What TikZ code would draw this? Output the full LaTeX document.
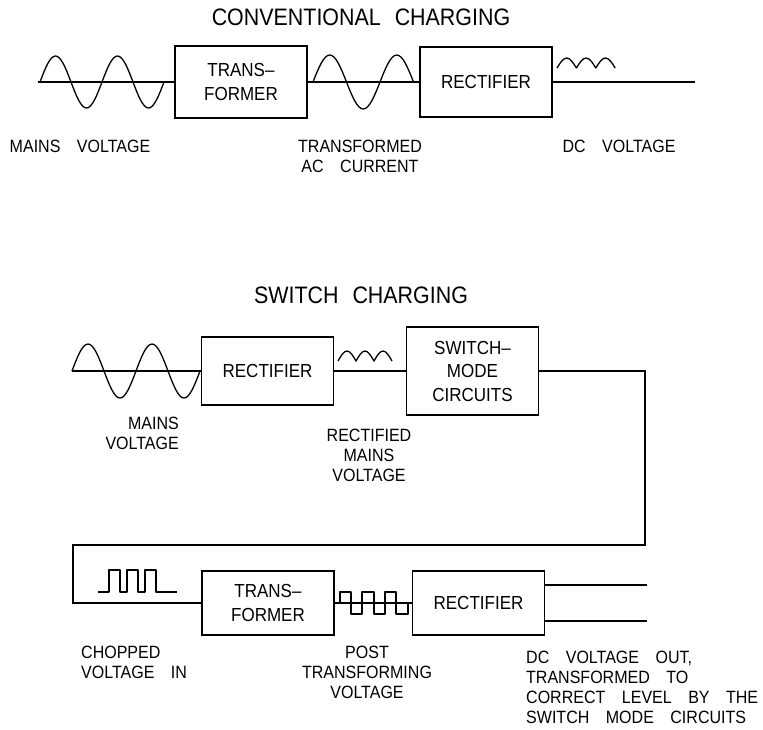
\documentclass[tikz,border=0pt]{standalone}
\usepackage{fontspec}
\setmainfont{Liberation Sans}[FakeStretch=0.9]
\usetikzlibrary{positioning}
\newcommand\lblfont{\fontsize{17.8}{20}\selectfont\spaceskip=16.5pt plus 1pt\relax}
\newcommand\headfont{\fontsize{23.8}{26}\selectfont\spaceskip=14pt plus 1pt\relax}
\newcommand\boxfont{\fontsize{18.9}{23.5}\selectfont}
\tikzset{
  block/.style={draw, line width=1.6pt, minimum width=132pt, align=center, inner sep=0pt, font=\boxfont},
  wire/.style={line width=1.3pt},
  wave/.style={line width=1.3pt, line join=round},
  note/.style={font=\lblfont, align=center, inner sep=0pt},
  heading/.style={font=\headfont, inner sep=0pt}
}

\begin{document}
\begin{tikzpicture}[x=1pt,y=-1pt]
  \useasboundingbox (0,0) rectangle (763,729);
  % conventional charging
  \node[heading] (head1) at (361,17.5) {CONVENTIONAL CHARGING};
  \coordinate (in1) at (38,82);
  \node[block, minimum height=72pt] (trans1) at (241,82) {TRANS--\\FORMER};
  \node[block, minimum height=70pt] (rect1) at (486,82) {RECTIFIER};
  \coordinate (out1) at (695,82);
  \draw[wire] (in1) -- (trans1) -- (rect1) -- (out1);
  \draw[wave] (40,82) \foreach \i in {1,2}{ sin ++(15.5,-26) cos ++(15.5,26) sin ++(15.5,26) cos ++(15.5,-26)};
  \draw[wave] (313,82) sin ++(16.75,-27) cos ++(16.75,27) sin ++(16.75,27) cos ++(16.75,-27) sin ++(16.75,-27) cos ++(16.75,27);
  \draw[wave] (557,68) \foreach \i in {1,2,3}{ sin ++(9.7,-10) cos ++(9.7,10)};
  \node[note] (mains1) at (80,146) {MAINS VOLTAGE};
  \node[note] (acout) at (360,156) {TRANSFORMED\\AC CURRENT};
  \node[note] (dcout) at (619,146) {DC VOLTAGE};

  % switch charging
  \node[heading] (head2) at (361,295) {SWITCH CHARGING};
  \coordinate (in2) at (72,371);
  \node[block, minimum height=68pt] (rect2) at (267.5,371) {RECTIFIER};
  \node[block, minimum height=88pt] (smc) at (472.5,371) {SWITCH--\\MODE\\CIRCUITS};
  \coordinate (turn1) at (645,371);
  \coordinate (turn2) at (645,545);
  \coordinate (turn3) at (73,545);
  \coordinate (turn4) at (73,603);
  \node[block, minimum height=64pt] (trans2) at (268,603) {TRANS--\\FORMER};
  \node[block, minimum height=64pt] (rect3) at (478.5,603) {RECTIFIER};
  \coordinate (dcp) at (647,585);
  \coordinate (dcn) at (647,621);
  \draw[wire] (in2) -- (rect2) -- (smc);
  \draw[wire] (smc) -- (turn1) -- (turn2) -- (turn3) -- (turn4) -- (trans2) -- (rect3);
  \draw[wire] (rect3.east |- dcp) -- (dcp);
  \draw[wire] (rect3.east |- dcn) -- (dcn);
  \draw[wave] (72,371) \foreach \i in {1,2}{ sin ++(16,-27) cos ++(16,27) sin ++(16,27) cos ++(16,-27)};
  \draw[wave] (338,361) \foreach \i in {1,2,3}{ sin ++(9,-10) cos ++(9,10)};
  \draw[wave] (98,592) -| (109,570) -| (120,592) -| (127,570) -| (138,592) -| (145,570) -| (156,592) -- (177,592);
  \draw[wave] (340,603) |- (351,592) |- (362,614) |- (374,592) |- (385,614) |- (396,592) |- (408,614) -- (408,603);
  \node[note, align=right, anchor=east] (mains2) at (179,433.5) {MAINS\\VOLTAGE};
  \node[note] (rectv) at (369,455.5) {RECTIFIED\\MAINS\\VOLTAGE};
  \node[note, align=left, anchor=west] (chop) at (81,662) {CHOPPED\\VOLTAGE IN};
  \node[note] (post) at (367,672) {POST\\TRANSFORMING\\VOLTAGE};
  \node[note, align=left, anchor=west] (dcfinal) at (526,687.5) {DC VOLTAGE OUT,\\TRANSFORMED TO\\CORRECT LEVEL BY THE\\SWITCH MODE CIRCUITS};
\end{tikzpicture}
\end{document}
